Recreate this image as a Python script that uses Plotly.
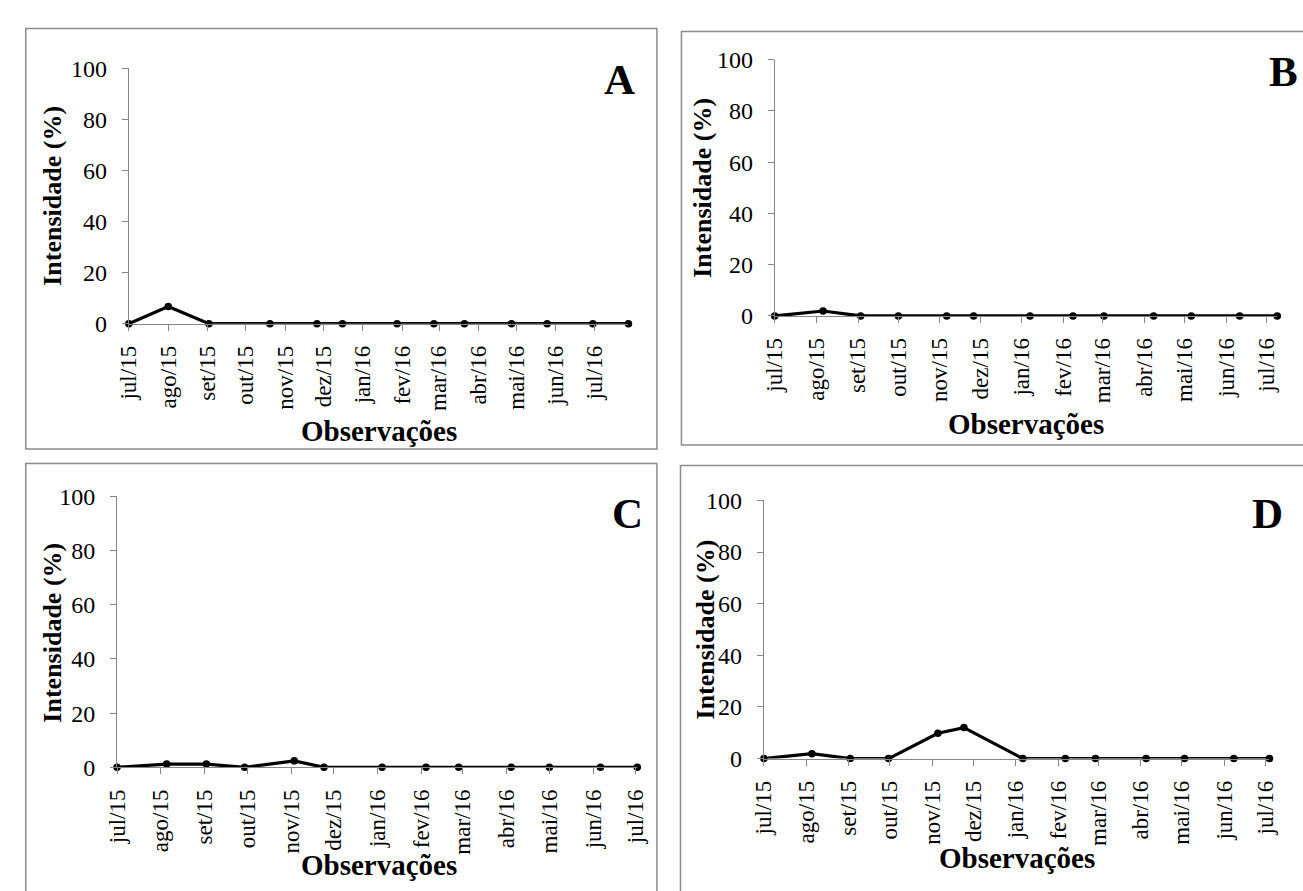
import plotly.graph_objects as go

W, H = 1303, 891

# ---------------- data ----------------
month_ticks = ["2015-07-01", "2015-08-01", "2015-09-01", "2015-10-01", "2015-11-01",
               "2015-12-01", "2016-01-01", "2016-02-01", "2016-03-01", "2016-04-01",
               "2016-05-01", "2016-06-01", "2016-07-01"]
month_labels = ["jul/15", "ago/15", "set/15", "out/15", "nov/15", "dez/15", "jan/16",
                "fev/16", "mar/16", "abr/16", "mai/16", "jun/16", "jul/16"]

dates_a = ["2015-07-01", "2015-08-01", "2015-09-02", "2015-10-20", "2015-11-26",
           "2015-12-16", "2016-01-28", "2016-02-26", "2016-03-21", "2016-04-27",
           "2016-05-25", "2016-06-30", "2016-07-28"]
vals_a = [0, 6.7, 0, 0, 0, 0, 0, 0, 0, 0, 0, 0, 0]

dates_b = ["2015-07-01", "2015-08-06", "2015-09-03", "2015-10-01", "2015-11-06",
           "2015-11-26", "2016-01-07", "2016-02-08", "2016-03-02", "2016-04-08",
           "2016-05-06", "2016-06-11", "2016-07-09"]
vals_b = [0, 1.9, 0, 0, 0, 0, 0, 0, 0, 0, 0, 0, 0]

dates_c = ["2015-07-01", "2015-08-05", "2015-09-02", "2015-09-29", "2015-11-03",
           "2015-11-24", "2016-01-04", "2016-02-04", "2016-02-27", "2016-04-04",
           "2016-05-01", "2016-06-06", "2016-07-02"]
vals_c = [0, 1.2, 1.2, 0, 2.4, 0, 0, 0, 0, 0, 0, 0, 0]

dates_d = ["2015-07-01", "2015-08-05", "2015-09-02", "2015-09-30", "2015-11-05",
           "2015-11-24", "2016-01-06", "2016-02-06", "2016-02-28", "2016-04-05",
           "2016-05-03", "2016-06-08", "2016-07-04"]
vals_d = [0, 1.9, 0, 0, 9.8, 12.0, 0, 0, 0, 0, 0, 0, 0]

y_ticks = [0, 20, 40, 60, 80, 100]
panel_letters = ["A", "B", "C", "D"]
y_title = "Intensidade (%)"
x_title = "Observações"

# ---------------- layout (pixel positions) ----------------
panels = [
    dict(dates=dates_a, vals=vals_a, plot=(118, 627, 57, 320), frame=(13, 16, 656, 449),
         letter=(618, 68), ytitle=(40, 188), xtitle=(373, 431)),
    dict(dates=dates_b, vals=vals_b, plot=(776, 1288, 48, 312), frame=(681, 19, 1330, 445),
         letter=(1294, 60), ytitle=(703, 180), xtitle=(1032, 423)),
    dict(dates=dates_c, vals=vals_c, plot=(106, 636, 498, 777), frame=(13, 464, 656, 920),
         letter=(626, 516), ytitle=(40, 638), xtitle=(373, 878)),
    dict(dates=dates_d, vals=vals_d, plot=(765, 1280, 502, 768), frame=(680, 466, 1330, 920),
         letter=(1278, 516), ytitle=(705, 635), xtitle=(1023, 870)),
]

FONT = "Liberation Serif"
AXIS_GREY = "#868686"
FRAME_GREY = "#8a8a8a"

fig = go.Figure()
layout = dict(width=W, height=H, margin=dict(l=0, r=0, t=0, b=0),
              paper_bgcolor="white", plot_bgcolor="white", showlegend=False,
              font=dict(family=FONT, color="black"))
annotations = []
shapes = []

for i, p in enumerate(panels, start=1):
    xa = "x" if i == 1 else f"x{i}"
    ya = "y" if i == 1 else f"y{i}"
    fig.add_trace(go.Scatter(
        x=p["dates"], y=p["vals"], xaxis=xa, yaxis=ya, mode="lines+markers",
        line=dict(color="black", width=3.2), marker=dict(color="black", size=7.5),
        cliponaxis=False, hoverinfo="x+y"))
    x0, x1, yt, yb = p["plot"]
    layout[f"xaxis{'' if i == 1 else i}"] = dict(
        type="date", domain=[x0 / W, x1 / W], anchor=ya,
        range=[p["dates"][0], p["dates"][-1]],
        tickmode="array", tickvals=month_ticks, ticktext=month_labels,
        tickangle=-90, ticks="outside", ticklen=6, tickcolor=AXIS_GREY,
        showline=True, linecolor=AXIS_GREY, linewidth=1, showgrid=False, zeroline=False,
        tickfont=dict(family=FONT, size=23, color="black"), ticklabelstandoff=6)
    layout[f"yaxis{'' if i == 1 else i}"] = dict(
        domain=[1 - yb / H, 1 - yt / H], anchor=xa, range=[0, 100],
        tickmode="array", tickvals=y_ticks, ticks="outside", ticklen=6,
        tickcolor=AXIS_GREY, showline=True, linecolor=AXIS_GREY, linewidth=1,
        showgrid=False, zeroline=False,
        tickfont=dict(family=FONT, size=24, color="black"), ticklabelstandoff=10)
    fx0, fy0, fx1, fy1 = p["frame"]
    shapes.append(dict(type="rect", xref="paper", yref="paper",
                       x0=fx0 / W, x1=fx1 / W, y0=1 - fy1 / H, y1=1 - fy0 / H,
                       line=dict(color=FRAME_GREY, width=1.5), fillcolor="rgba(0,0,0,0)",
                       layer="below"))
    lx, ly = p["letter"]
    annotations.append(dict(text=f"<b>{panel_letters[i-1]}</b>", xref="paper", yref="paper",
                            x=lx / W, y=1 - ly / H, xanchor="center", yanchor="middle",
                            showarrow=False, font=dict(family=FONT, size=43, color="black")))
    tx, ty = p["ytitle"]
    annotations.append(dict(text=f"<b>{y_title}</b>", xref="paper", yref="paper",
                            x=tx / W, y=1 - ty / H, xanchor="center", yanchor="middle",
                            textangle=-90, showarrow=False,
                            font=dict(family=FONT, size=26, color="black")))
    ox, oy = p["xtitle"]
    annotations.append(dict(text=f"<b>{x_title}</b>", xref="paper", yref="paper",
                            x=ox / W, y=1 - oy / H, xanchor="center", yanchor="middle",
                            showarrow=False, font=dict(family=FONT, size=29, color="black")))

layout["annotations"] = annotations
layout["shapes"] = shapes
fig.update_layout(**layout)
fig.write_html("out.html", config={"displayModeBar": False},
               post_script="document.body.style.margin='0';document.body.style.overflow='hidden';")
